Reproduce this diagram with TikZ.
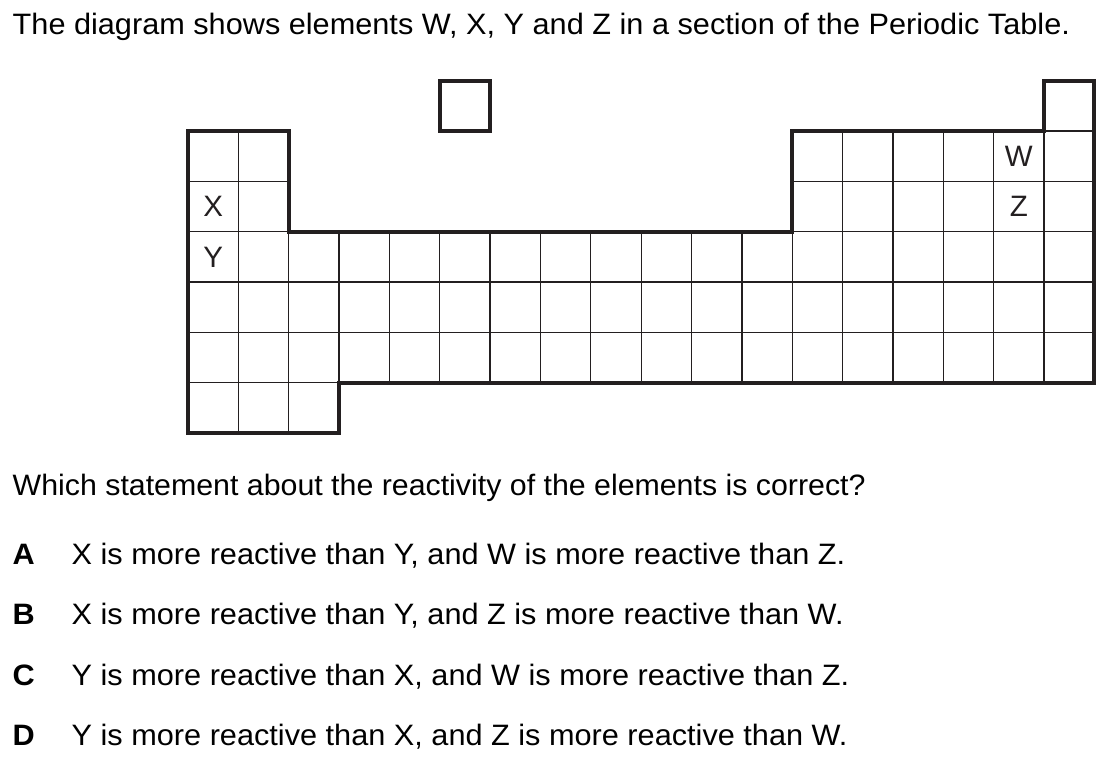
\documentclass[tikz,border=0pt]{standalone}
\usepackage{fontspec}
\setmainfont{Liberation Sans}[FakeStretch=1.04]
\newfontfamily\qfont{Liberation Sans}[FakeStretch=1.028]
\newfontfamily\cellfont{Liberation Sans}
\definecolor{ink}{HTML}{231F20}
\begin{document}
\begin{tikzpicture}[x=1pt,y=-1pt,
  txt/.style={anchor=base west,inner sep=0pt,font=\fontsize{29.5}{35}\selectfont},
  qtxt/.style={anchor=base west,inner sep=0pt,font=\qfont\fontsize{29.5}{35}\selectfont},
  opt/.style={anchor=base west,inner sep=0pt,font=\fontsize{29.5}{35}\selectfont\bfseries},
  cellbl/.style={inner sep=0pt,text=ink,font=\cellfont\fontsize{29.5}{35}\selectfont},
  thinline/.style={draw=ink,line width=1.3pt},
  thickline/.style={draw=ink,line width=4.2pt,line join=miter}]
\useasboundingbox (0,0) rectangle (1112,759);
\node[txt] (title) at (12.5,34.3) {The diagram shows elements W, X, Y and Z in a section of the Periodic Table.};
\begin{scope}[shift={(188pt,-131pt)},x=50.35pt,y=-50.35pt]
  % thin inner lines
  \draw[thinline] (1,0) -- (1,6);
  \draw[thinline] (2,2) -- (2,6);
  \foreach \c in {3,...,12} {\draw[thinline] (\c,2) -- (\c,5);}
  \foreach \c in {13,...,17} {\draw[thinline] (\c,0) -- (\c,5);}
  \draw[thinline] (0,1) -- (2,1);
  \draw[thinline] (12,1) -- (18,1);
  \foreach \r in {2,3,4} {\draw[thinline] (0,\r) -- (18,\r);}
  \draw[thinline] (0,5) -- (3,5);
  \draw[thinline] (17,0) -- (18,0);
  % thick outlines
  \draw[thickline] (0,0) -- (2,0) -- (2,2) -- (12,2) -- (12,0) -- (17,0) -- (17,-1) -- (18,-1) -- (18,5) -- (3,5) -- (3,6) -- (0,6) -- cycle;
  \draw[thickline] (5,-1) rectangle (6,0);
  % labels
  \node[cellbl] (X) at (0.5,1.5) {X};
  \node[cellbl] (Y) at (0.5,2.5) {Y};
  \node[cellbl] (W) at (16.5,0.5) {W};
  \node[cellbl] (Z) at (16.5,1.5) {Z};
\end{scope}
\node[qtxt] (q) at (12.5,495.8) {Which statement about the reactivity of the elements is correct?};
\node[opt] (oA) at (12.5,564.3) {A};
\node[txt] (tA) at (71.5,564.3) {X is more reactive than Y, and W is more reactive than Z.};
\node[opt] (oB) at (12.5,624.5) {B};
\node[txt] (tB) at (71.5,624.5) {X is more reactive than Y, and Z is more reactive than W.};
\node[opt] (oC) at (12.5,685) {C};
\node[txt] (tC) at (71.5,685) {Y is more reactive than X, and W is more reactive than Z.};
\node[opt] (oD) at (12.5,745.3) {D};
\node[txt] (tD) at (71.5,745.3) {Y is more reactive than X, and Z is more reactive than W.};
\end{tikzpicture}
\end{document}
